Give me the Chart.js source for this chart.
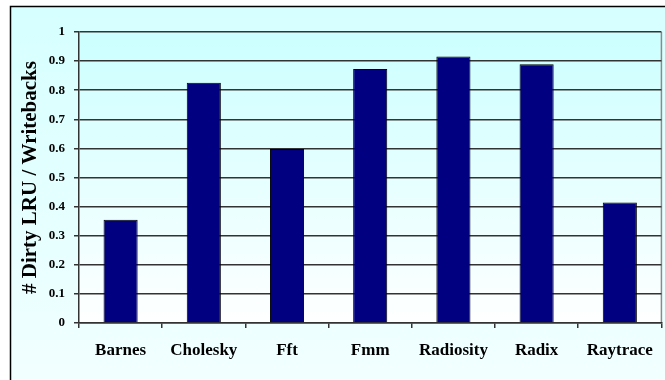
<!DOCTYPE html>
<html>
<head>
<meta charset="utf-8">
<script src="https://cdn.jsdelivr.net/npm/chart.js@4.4.0/dist/chart.umd.min.js"></script>
<style>
  html, body { margin: 0; padding: 0; background: #fff; }
  #wrap { width: 665px; height: 380px; }
</style>
</head>
<body>
<div id="wrap"><canvas id="chart" width="665" height="380"></canvas></div>
<script>
// benchmark names and measured ratios
const benchmarks = ['Barnes', 'Cholesky', 'Fft', 'Fmm', 'Radiosity', 'Radix', 'Raytrace'];
const dirtyRatio = [0.355, 0.826, 0.598, 0.873, 0.916, 0.889, 0.414];
const yTickLabels = ['0', '0.1', '0.2', '0.3', '0.4', '0.5', '0.6', '0.7', '0.8', '0.9', '1'];

const serif = "'Liberation Serif', 'Times New Roman', serif";

// paints the framed cyan background and the plot area fill
const backdrop = {
    id: 'backdrop',
    beforeDraw(chart) {
        const { ctx, chartArea: a, width, height } = chart;
        ctx.save();
        ctx.fillStyle = '#ffffff';
        ctx.fillRect(0, 0, width, height);

        const outer = ctx.createLinearGradient(0, 6, 0, height);
        outer.addColorStop(0, '#d6ffff');
        outer.addColorStop(1, '#f2ffff');
        ctx.fillStyle = outer;
        ctx.fillRect(10.5, 6.5, width, height);
        ctx.strokeStyle = '#000';
        ctx.lineWidth = 1.5;
        ctx.beginPath();
        ctx.moveTo(10.5, height + 2);
        ctx.lineTo(10.5, 6.5);
        ctx.lineTo(width + 2, 6.5);
        ctx.stroke();

        const inner = ctx.createLinearGradient(0, a.top, 0, a.bottom);
        inner.addColorStop(0, '#ccffff');
        inner.addColorStop(1, '#ffffff');
        ctx.fillStyle = inner;
        ctx.fillRect(a.left, a.top, a.right - a.left, a.bottom - a.top);
        ctx.strokeStyle = '#8a8a8a';
        ctx.lineWidth = 1.5;
        ctx.beginPath();
        ctx.moveTo(a.right, a.top);
        ctx.lineTo(a.right, a.bottom);
        ctx.stroke();
        ctx.restore();
    }
};

new Chart(document.getElementById('chart'), {
    type: 'bar',
    data: {
        labels: benchmarks,
        datasets: [{
            data: dirtyRatio,
            backgroundColor: '#000080',
            borderColor: '#000000',
            borderWidth: 1,
            categoryPercentage: 1,
            barPercentage: 0.41
        }]
    },
    options: {
        responsive: false,
        animation: false,
        layout: { padding: { top: 32, right: 2, left: 0, bottom: 0 } },
        plugins: {
            legend: { display: false },
            tooltip: { enabled: false }
        },
        scales: {
            x: {
                offset: true,
                grid: {
                    display: true,
                    drawOnChartArea: false,
                    color: '#333',
                    lineWidth: 1.5,
                    tickLength: 5
                },
                border: { color: '#333', width: 1.5 },
                ticks: {
                    color: '#000',
                    padding: 12,
                    maxRotation: 0,
                    font: { family: serif, size: 17, weight: 'bold' }
                },
                afterFit(scale) { scale.height = 57; }
            },
            y: {
                min: 0,
                max: 1,
                grid: {
                    color: '#333',
                    lineWidth: 1.5,
                    tickLength: 5
                },
                border: { color: '#333', width: 1.5 },
                ticks: {
                    stepSize: 0.1,
                    color: '#000',
                    padding: 9,
                    font: { family: serif, size: 13, weight: 'bold' },
                    callback: (v, i) => yTickLabels[i]
                },
                title: {
                    display: true,
                    text: '# Dirty LRU / Writebacks',
                    color: '#000',
                    padding: { top: 18, bottom: 0 },
                    font: { family: serif, size: 21, weight: 'bold' }
                },
                afterFit(scale) { scale.width = 79; }
            }
        }
    },
    plugins: [backdrop]
});
</script>
</body>
</html>
